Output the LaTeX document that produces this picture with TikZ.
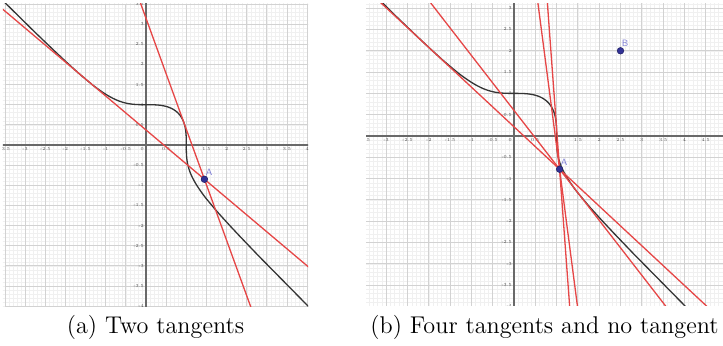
\documentclass[tikz,border=0pt]{standalone}
\usepackage{tikz}
\usetikzlibrary{positioning}

\definecolor{ggred}{RGB}{230,70,70}
\definecolor{ggcurve}{RGB}{52,52,52}
\definecolor{ggaxis}{RGB}{105,105,105}
\definecolor{ggmajor}{RGB}{210,210,210}
\definecolor{ggminor}{RGB}{240,240,240}
\definecolor{ggpoint}{RGB}{50,50,150}
\definecolor{gglabel}{RGB}{128,128,214}

\tikzset{
  minorgrid/.style={ggminor, line width=0.25pt, step=0.1},
  majorgrid/.style={ggmajor, line width=0.45pt, step=0.5},
  axisline/.style={ggaxis, line width=0.6pt},
  cubic/.style={ggcurve, line width=0.65pt},
  tanline/.style={ggred, line width=0.65pt},
  ptdot/.style={fill=ggpoint, draw=ggpoint!70!black, line width=0.3pt},
  ptlabel/.style={text=gglabel, font=\fontsize{4.6}{5}\sffamily, inner sep=0pt},
  xlab/.style={anchor=north, inner sep=0.9pt, font=\fontsize{2.3}{2.8}\selectfont, text=black!70},
  ylab/.style={anchor=east, inner sep=0.9pt, font=\fontsize{2.3}{2.8}\selectfont, text=black!70},
  olab/.style={anchor=north east, inner sep=0.9pt, font=\fontsize{2.3}{2.8}\selectfont, text=black!70},
  caption/.style={anchor=base, font=\fontsize{12.1}{14}\selectfont, inner sep=0pt},
  declare function={rcub(\t)=pow(cos(\t)*cos(\t)*cos(\t)+sin(\t)*sin(\t)*sin(\t),-1/3);}
}

\begin{document}
\begin{tikzpicture}[x=0.5pt, y=0.5pt]

    % Page
    \fill[white] (0,0) rectangle (723,346);
    \useasboundingbox (0,0) rectangle (723,346);

    % Left view
    \begin{scope}[shift={(73pt,100.5pt)}, x=20.15pt, y=20.15pt]
      \clip (-3.55,-4.0) rectangle (4.02,3.52);

      % Draw the grid
      \draw[minorgrid] (-3.6,-4.1) grid (4.1,3.6);
      \draw[majorgrid] (-3.5,-4.5) grid (4.5,3.5);
      \draw[axisline] (-3.6,0) -- (4.1,0);
      \draw[axisline] (0,-4.1) -- (0,3.6);

      % Axis numbers
      \foreach \v in {-3.5,-3,-2.5,-2,-1.5,-1,-0.5,0.5,1,1.5,2,2.5,3,3.5,4}
        \node[xlab] at (\v,0) {\v};
      \foreach \v in {-4,-3.5,-3,-2.5,-2,-1.5,-1,-0.5,0.5,1,1.5,2,2.5,3,3.5}
        \node[ylab] at (0,\v) {\v};
      \node[olab] at (0,0) {0};

      % x^3+y^3=1
      \draw[cubic] plot[domain=-44.9:134.9, samples=541] ({rcub(\x)*cos(\x)}, {rcub(\x)*sin(\x)});

      % Tangents through A
      \coordinate (A) at (1.45,-0.85);
      \draw[tanline] (A) -- ++(-40.13:9) (A) -- ++(139.87:9);
      \draw[tanline] (A) -- ++(-70.05:9) (A) -- ++(109.95:9);

      \filldraw[ptdot] (A) circle[radius=1.65pt];
      \node[ptlabel, above right=1.9pt and 0.5pt of A] (labA) {A};
    \end{scope}

    % Right view
    \begin{scope}[shift={(257pt,105pt)}, x=21.3pt, y=21.3pt]
      \clip (-3.47,-3.99) rectangle (4.91,3.12);

      % Draw the grid
      \draw[minorgrid] (-3.6,-4.1) grid (5.0,3.2);
      \draw[majorgrid] (-4,-4.5) grid (5,3.5);
      \draw[axisline] (-3.6,0) -- (5.0,0);
      \draw[axisline] (0,-4.1) -- (0,3.2);

      % Axis numbers
      \foreach \v in {-3.5,-3,-2.5,-2,-1.5,-1,-0.5,0.5,1,1.5,2,2.5,3,3.5,4,4.5}
        \node[xlab] at (\v,0) {\v};
      \foreach \v in {-4,-3.5,-3,-2.5,-2,-1.5,-1,-0.5,0.5,1,1.5,2,2.5,3}
        \node[ylab] at (0,\v) {\v};
      \node[olab] at (0,0) {0};

      % x^3+y^3=1
      \draw[cubic] plot[domain=-44.9:134.9, samples=541] ({rcub(\x)*cos(\x)}, {rcub(\x)*sin(\x)});

      % Tangents through A, none through B
      \coordinate (A) at (1.07,-0.78);
      \coordinate (B) at (2.5,2);
      \draw[tanline] (A) -- ++(-42.95:9) (A) -- ++(137.05:9);
      \draw[tanline] (A) -- ++(-52.22:9) (A) -- ++(127.78:9);
      \draw[tanline] (A) -- ++(-82.57:9) (A) -- ++(97.43:9);
      \draw[tanline] (A) -- ++(-85.8:9) (A) -- ++(94.2:9);

      \filldraw[ptdot] (A) circle[radius=1.65pt];
      \filldraw[ptdot] (B) circle[radius=1.65pt];
      \node[ptlabel, above right=1.9pt and 0.5pt of A] (labA) {A};
      \node[ptlabel, above right=1.9pt and 0.5pt of B] (labB) {B};
    \end{scope}

    % Captions
    \node[caption] (capa) at (155.5,12) {(a) Two tangents};
    \node[caption] (capb) at (544.5,12) {(b) Four tangents and no tangent};

\end{tikzpicture}
\end{document}
